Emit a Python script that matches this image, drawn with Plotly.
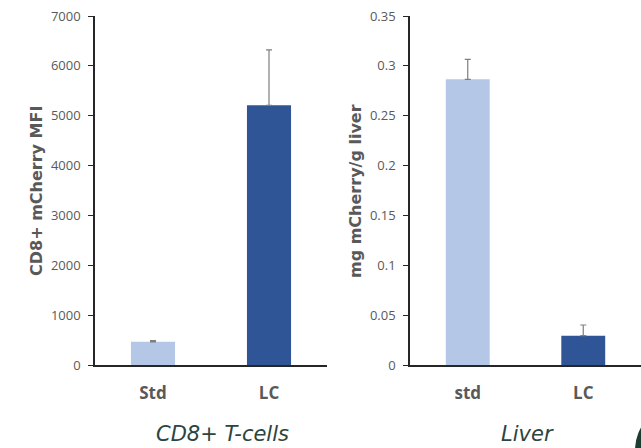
import plotly.graph_objects as go

# Data
cats_left = ["Std", "LC"]
mfi = [465, 5210]
mfi_err = [25, 1110]

cats_right = ["std", "LC"]
liver = [0.2865, 0.0294]
liver_err = [0.020, 0.0107]

colors = ["#B4C7E7", "#2F5597"]

left_title = "CD8+ mCherry MFI"
right_title = "mg mCherry/g liver"
left_sub = "CD8+ T-cells"
right_sub = "Liver"

W, H = 641, 448
fig = go.Figure()

fig.add_trace(go.Bar(
    x=cats_left, y=mfi, marker=dict(color=colors, line=dict(width=0)),
    error_y=dict(type="data", array=mfi_err, arrayminus=[0, 0], symmetric=False,
                 color="#7F7F7F", thickness=1.2, width=3),
    xaxis="x", yaxis="y", showlegend=False))

fig.add_trace(go.Bar(
    x=cats_right, y=liver, marker=dict(color=colors, line=dict(width=0)),
    error_y=dict(type="data", array=liver_err, arrayminus=[0, 0], symmetric=False,
                 color="#7F7F7F", thickness=1.2, width=3),
    xaxis="x2", yaxis="y2", showlegend=False))

y0 = (H - 365) / H
y1 = (H - 16) / H

axis_font = dict(family="Open Sans", size=13, color="#595959")
xtick_font = dict(family="Open Sans", size=17, color="#595959", weight="bold")

common_y = dict(showline=True, linecolor="#262626", linewidth=1.5, ticks="outside",
                ticklen=5, tickcolor="#262626", tickwidth=1.2, showgrid=False,
                zeroline=False, tickfont=axis_font, ticklabelstandoff=5, automargin=False)
common_x = dict(showline=True, linecolor="#262626", linewidth=1.5, ticks="",
                showgrid=False, tickfont=xtick_font, ticklabelstandoff=12, automargin=False)

fig.update_layout(
    template="none",
    width=W, height=H, margin=dict(l=0, r=0, t=0, b=0, autoexpand=False),
    paper_bgcolor="white", plot_bgcolor="white",
    bargap=0.62,
    xaxis=dict(domain=[95 / W, 327 / W], anchor="y", **common_x),
    yaxis=dict(domain=[y0, y1], anchor="x", range=[0, 7000], dtick=1000, **common_y),
    xaxis2=dict(domain=[410 / W, 1.0], anchor="y2", **common_x),
    yaxis2=dict(domain=[y0, y1], anchor="x2", range=[0, 0.35], dtick=0.05, **common_y),
)

title_font = dict(family="DejaVu Sans", size=16, color="#595959", weight="bold")
fig.add_annotation(text=left_title, x=36 / W, y=(H - 191) / H, xref="paper", yref="paper",
                   textangle=-90, showarrow=False, font=title_font, xanchor="center", yanchor="middle")
fig.add_annotation(text=right_title, x=355 / W, y=(H - 191) / H, xref="paper", yref="paper",
                   textangle=-90, showarrow=False, font=title_font, xanchor="center", yanchor="middle")

sub_font = dict(family="DejaVu Sans", size=21, color="#2B4540", style="italic")
fig.add_annotation(text=left_sub, x=222 / W, y=0, xref="paper", yref="paper",
                   showarrow=False, font=sub_font, xanchor="center", yanchor="bottom")
fig.add_annotation(text=right_sub, x=527 / W, y=0, xref="paper", yref="paper",
                   showarrow=False, font=sub_font, xanchor="center", yanchor="bottom")

# decorative circle partly visible at bottom-right corner
fig.add_shape(type="circle", xref="paper", yref="paper",
              x0=(680 - 45) / W, x1=(680 + 45) / W, y0=(H - 495) / H, y1=(H - 405) / H,
              fillcolor="#1D3D33", line=dict(width=0), layer="above")

fig.write_html("out.html", post_script="document.body.style.margin='0px';",
               config={"displayModeBar": False})
